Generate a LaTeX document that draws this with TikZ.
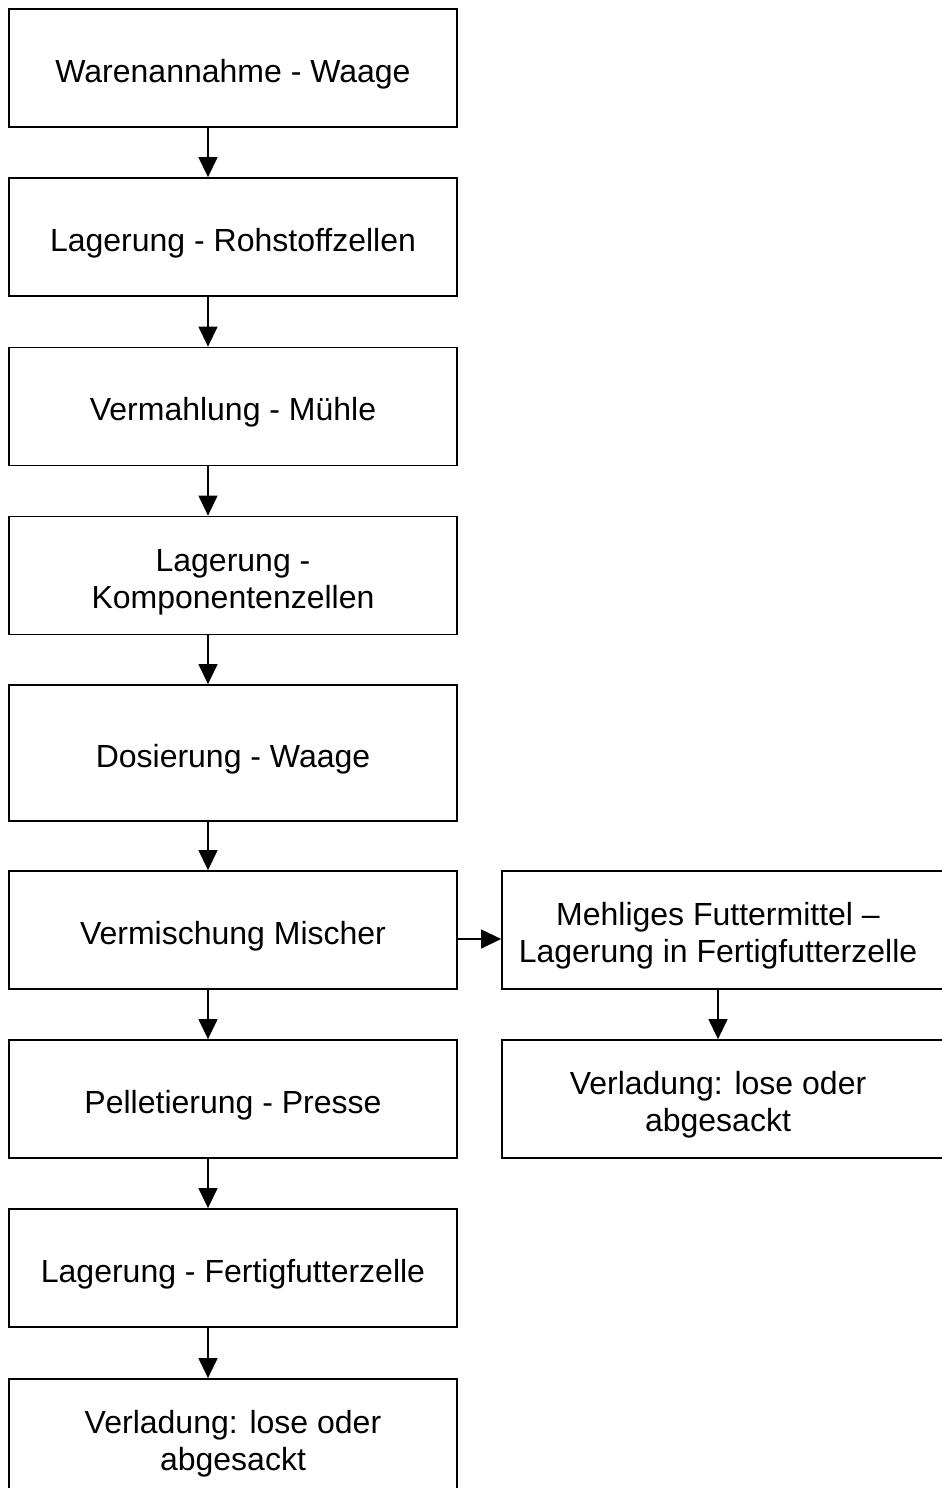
\documentclass[tikz,border=0pt]{standalone}
\usepackage{fontspec}
\setmainfont{Liberation Sans}
\usetikzlibrary{arrows.meta}

% centred label text, set a little below the geometric centre of its box
\newcommand\boxtext[1]{\raisebox{-7pt}[\height][\depth]{\begin{tabular}{@{}c@{}}#1\end{tabular}}}

\begin{document}
\begin{tikzpicture}[x=1pt,y=-1pt,
  box/.style={draw=black,line width=1.8pt,fill=white,inner sep=0pt,
    minimum width=448pt,minimum height=118pt,
    font=\fontsize{32}{37}\selectfont},
  sidebox/.style={draw=black,line width=1.8pt,inner sep=0pt,
    minimum width=444pt,minimum height=118pt},
  txt/.style={inner sep=0pt,font=\fontsize{32}{37}\selectfont},
  arr/.style={line width=1.3pt,-{Triangle[width=19pt,length=20pt]}}]

% page frame and clipping
\fill[white] (0,0) rectangle (942,1488);
\clip (0,0) rectangle (942,1488);

% main process chain
\node[box] (b1) at (233,68)    {\boxtext{Warenannahme - Waage}};
\node[box] (b2) at (233,237)   {\boxtext{Lagerung - Rohstoffzellen}};
\node[box] (b3) at (233,406.5) {\boxtext{Vermahlung - Mühle}};
\node[box] (b4) at (233,575.5) {\boxtext{Lagerung -\\Komponentenzellen}};
\node[box,minimum height=136pt] (b5) at (233,753) {\boxtext{Dosierung - Waage}};
\node[box] (b6) at (233,930)   {\boxtext{Vermischung Mischer}};
\node[box] (b7) at (233,1099)  {\boxtext{Pelletierung - Presse}};
\node[box] (b8) at (233,1268)  {\boxtext{Lagerung - Fertigfutterzelle}};
\node[box] (b9) at (233,1438)  {\boxtext{Verladung: lose oder\\abgesackt}};

% branch for meal feed
\node[sidebox] (r1) at (724,930) {};
\node[sidebox] (r2) at (724,1099) {};
\node[txt] (t1) at (718,930)  {\boxtext{Mehliges Futtermittel –\\Lagerung in Fertigfutterzelle}};
\node[txt] (t2) at (718,1099) {\boxtext{Verladung: lose oder\\abgesackt}};

% connector guides
\coordinate (ax) at (208,0);
\coordinate (hy) at (0,939);

\draw[arr] (b1.south -| ax) -- (b2.north -| ax);
\draw[arr] (b2.south -| ax) -- (b3.north -| ax);
\draw[arr] (b3.south -| ax) -- (b4.north -| ax);
\draw[arr] (b4.south -| ax) -- (b5.north -| ax);
\draw[arr] (b5.south -| ax) -- (b6.north -| ax);
\draw[arr] (b6.south -| ax) -- (b7.north -| ax);
\draw[arr] (b7.south -| ax) -- (b8.north -| ax);
\draw[arr] (b8.south -| ax) -- (b9.north -| ax);

\draw[arr] (b6.east |- hy) -- (r1.west |- hy);
\draw[arr] (r1.south -| t1) -- (r2.north -| t2);
\end{tikzpicture}
\end{document}
